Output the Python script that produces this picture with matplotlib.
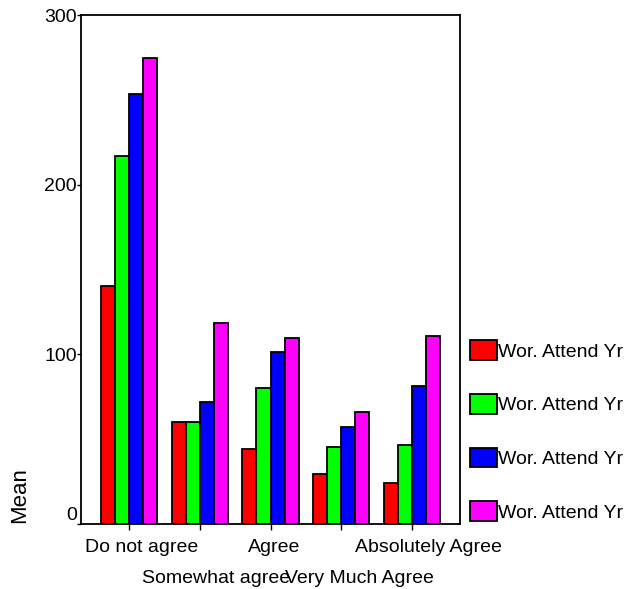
"""Grouped bar chart of mean worship attendance by agreement level."""

import matplotlib

matplotlib.use("Agg")
import matplotlib.pyplot as plt
import matplotlib.transforms as mtransforms
import numpy as np

categories = ["Do not agree", "Somewhat agree", "Agree", "Very Much Agree", "Absolutely Agree"]
series_labels = ["Wor. Attend Yr", "Wor. Attend Yr", "Wor. Attend Yr", "Wor. Attend Yr"]
series_colors = ["#ff0000", "#00ff00", "#0000ff", "#ff00ff"]
series_1 = [140.4, 59.9, 44.2, 29.5, 24.3]
series_2 = [216.7, 59.9, 80.3, 45.2, 46.4]
series_3 = [253.2, 71.7, 101.2, 57.0, 81.3]
series_4 = [274.4, 118.3, 109.6, 66.2, 110.8]
y_ticks = [0, 100, 200, 300]

plt.rcParams["font.family"] = ["Liberation Sans", "DejaVu Sans"]
plt.rcParams["font.size"] = 14

W, H = 630, 589
fig = plt.figure(figsize=(W / 100, H / 100), dpi=100)
ax = fig.add_axes([81 / W, (H - 524) / H, (460 - 81) / W, (524 - 15) / H])

x = np.arange(len(categories))
width = 0.2
all_series = [series_1, series_2, series_3, series_4]
handles = []
for i, (vals, col, lab) in enumerate(zip(all_series, series_colors, series_labels)):
    bars = ax.bar(x + (i - 1.5) * width, vals, width, color=col,
                  edgecolor="black", linewidth=1.3, label=lab)
    handles.append(bars)

ax.set_xlim(-0.68, len(categories) - 1 + 0.68)
ax.set_ylim(0, 300)
ax.set_yticks(y_ticks)
ax.set_xticks(x, categories)
ax.tick_params(axis="y", direction="out", length=3, width=1, pad=0)
ax.tick_params(axis="x", direction="out", length=4, width=1)
for spine in ax.spines.values():
    spine.set_linewidth(1.3)

# Categories alternate between two rows so the long labels don't collide;
# the original also nudges each label a little to the right of its tick.
label_shift_px = [13, 16, 4, 18, 17]
for i, tick in enumerate(ax.xaxis.get_major_ticks()):
    tick.set_pad(7 if i % 2 == 0 else 29)
for lbl, dx in zip(ax.get_xticklabels(), label_shift_px):
    lbl.set_transform(lbl.get_transform() + mtransforms.ScaledTranslation(dx / 100, 0, fig.dpi_scale_trans))

# The zero label sits a bit above its tick.
for lbl in ax.get_yticklabels():
    if lbl.get_text() == "0":
        lbl.set_transform(lbl.get_transform() + mtransforms.ScaledTranslation(0, 0.1, fig.dpi_scale_trans))

fig.text(20 / W, (H - 523) / H, "Mean", rotation=90, ha="center", va="bottom", fontsize=16)

ax.legend(handles=handles, loc="center left", bbox_to_anchor=(470 / W, (H - 431) / H),
          bbox_transform=fig.transFigure, frameon=False, fontsize=14,
          handlelength=1.4, handleheight=1.2, handletextpad=0.05,
          labelspacing=1.7, borderpad=0, borderaxespad=0)

fig.savefig("out.png", dpi=100)
